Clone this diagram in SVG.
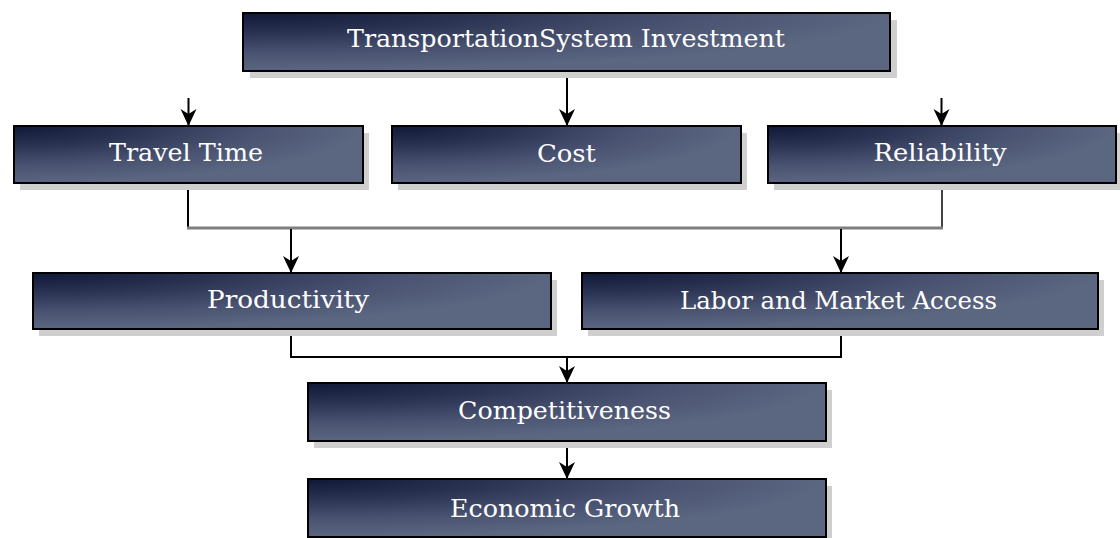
<svg xmlns="http://www.w3.org/2000/svg" width="1120" height="538" viewBox="0 0 1120 538">
<style>
.sh{fill:#cfcfcf;stroke:none}
.bx{fill:url(#g);stroke:#000;stroke-width:2}
.tx{font-family:"DejaVu Serif","Liberation Serif",serif;font-size:25px;fill:#fff;text-anchor:middle}
.ln{fill:none;stroke:#000;stroke-width:2}
.ar{fill:none;stroke:#000;stroke-width:2;marker-end:url(#ah)}
</style>
<defs>
<radialGradient id="g" cx="0" cy="0" r="1" fx="0" fy="0">
<stop offset="0" stop-color="#0f1838"/>
<stop offset="0.35" stop-color="#2b3352"/>
<stop offset="0.7" stop-color="#4a5472"/>
<stop offset="1" stop-color="#5b6681"/>
</radialGradient>
<marker id="ah" markerUnits="userSpaceOnUse" viewBox="-18 -9 19 18" refX="0" refY="0" markerWidth="19" markerHeight="18" orient="auto">
<path d="M0,0 L-17,-8 L-12,0 L-17,8 Z" fill="#000"/>
</marker>
</defs>
<rect width="1120" height="538" fill="#fff"/>
<g id="connectors">
<line class="ar" x1="567" y1="71" x2="567" y2="126"/>
<line class="ar" x1="188.5" y1="98" x2="188.5" y2="126"/>
<line class="ar" x1="941.5" y1="98" x2="941.5" y2="126"/>
<line class="ln" x1="188" y1="183" x2="188" y2="228"/>
<line x1="942" y1="183" x2="942" y2="228" stroke="#444" stroke-width="2"/>
<line x1="187" y1="228" x2="943" y2="228" stroke="#7f7f7f" stroke-width="3"/>
<line class="ar" x1="291" y1="229" x2="291" y2="273"/>
<line class="ar" x1="841" y1="229" x2="841" y2="273"/>
<polyline class="ln" points="291,329 291,357 841,357 841,329"/>
<line class="ar" x1="567" y1="357" x2="567" y2="383"/>
<line class="ar" x1="567" y1="441" x2="567" y2="479"/>
</g>
<g id="n_invest">
<rect class="sh" x="250" y="20" width="647" height="58"/>
<rect class="bx" x="243" y="13" width="647" height="58"/>
<text class="tx" x="566" y="47" textLength="438" lengthAdjust="spacingAndGlyphs">TransportationSystem Investment</text>
</g>
<g id="n_travel">
<rect class="sh" x="20" y="133" width="349" height="57"/>
<rect class="bx" x="14" y="126" width="349" height="57"/>
<text class="tx" x="186" y="161" textLength="154" lengthAdjust="spacingAndGlyphs">Travel Time</text>
</g>
<g id="n_cost">
<rect class="sh" x="398" y="133" width="349" height="57"/>
<rect class="bx" x="392" y="126" width="349" height="57"/>
<text class="tx" x="566.5" y="162" textLength="59" lengthAdjust="spacingAndGlyphs">Cost</text>
</g>
<g id="n_rel">
<rect class="sh" x="774" y="133" width="348" height="57"/>
<rect class="bx" x="768" y="126" width="348" height="57"/>
<text class="tx" x="940" y="161" textLength="133" lengthAdjust="spacingAndGlyphs">Reliability</text>
</g>
<g id="n_prod">
<rect class="sh" x="39" y="280" width="518" height="56"/>
<rect class="bx" x="33" y="273" width="518" height="56"/>
<text class="tx" x="288" y="308" textLength="162" lengthAdjust="spacingAndGlyphs">Productivity</text>
</g>
<g id="n_labor">
<rect class="sh" x="588" y="280" width="516" height="56"/>
<rect class="bx" x="582" y="273" width="516" height="56"/>
<text class="tx" x="838.5" y="309" textLength="317" lengthAdjust="spacingAndGlyphs">Labor and Market Access</text>
</g>
<g id="n_comp">
<rect class="sh" x="314" y="390" width="518" height="58"/>
<rect class="bx" x="308" y="383" width="518" height="58"/>
<text class="tx" x="564.5" y="419" textLength="213" lengthAdjust="spacingAndGlyphs">Competitiveness</text>
</g>
<g id="n_econ">
<rect class="sh" x="314" y="486" width="518" height="58"/>
<rect class="bx" x="308" y="479" width="518" height="58"/>
<text class="tx" x="565" y="517" textLength="230" lengthAdjust="spacingAndGlyphs">Economic Growth</text>
</g>
</svg>
